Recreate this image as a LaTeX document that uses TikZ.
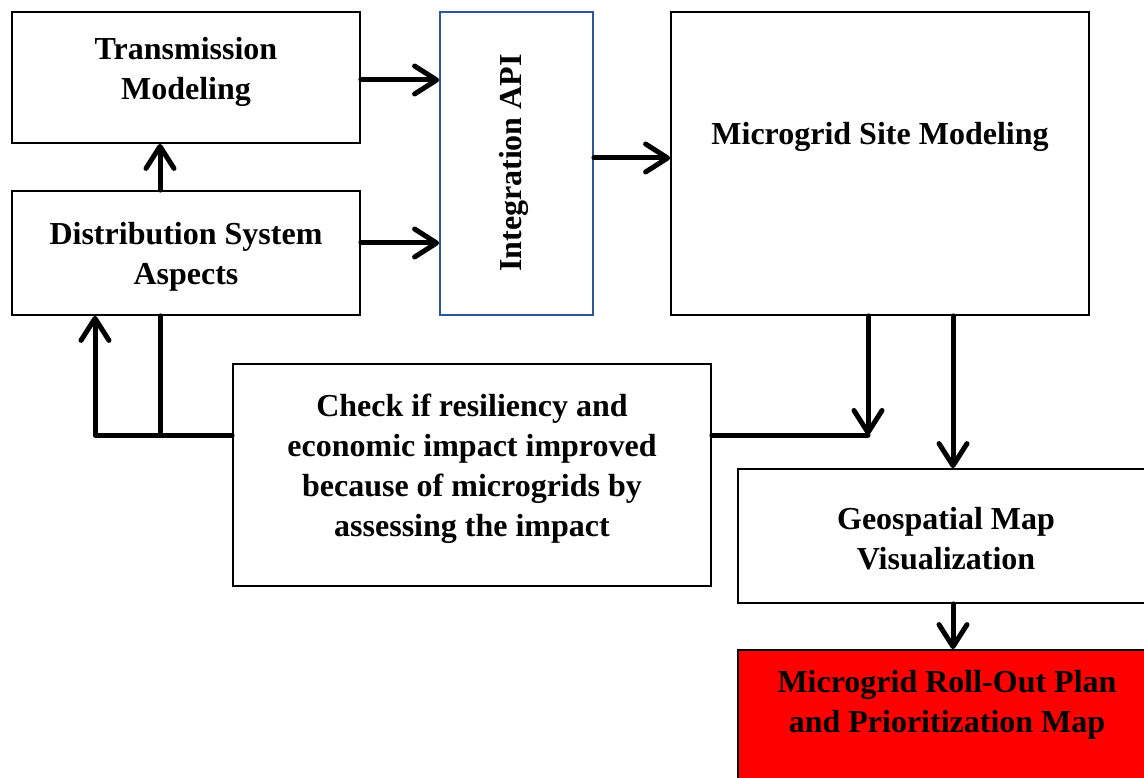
\documentclass[tikz,border=0pt]{standalone}
\usepackage{fontspec}
\setmainfont{Liberation Serif}
\usetikzlibrary{arrows.meta,calc}
\definecolor{apiblue}{RGB}{47,85,151}
\begin{document}
\begin{tikzpicture}[x=1pt,y=-1pt,
  box/.style={draw=black,line width=1.8pt,inner sep=0pt},
  txt/.style={font=\bfseries\fontsize{32}{40}\selectfont,align=center,inner sep=0pt},
  conn/.style={line width=5pt,line cap=round,line join=round},
  arr/.style={conn,-{Straight Barb[length=22pt,width=28pt,line cap=round,line join=round]}}]
\useasboundingbox (0,0) rectangle (1144,778);
% boxes
\node[box,minimum width=348pt,minimum height=131pt] (trans) at (186,77.5) {};
\node[box,minimum width=348pt,minimum height=124pt] (dist) at (186,253) {};
\node[box,draw=apiblue,minimum width=153pt,minimum height=303pt] (api) at (516.5,163.5) {};
\node[box,minimum width=418pt,minimum height=303pt] (micro) at (880,163.5) {};
\node[box,minimum width=478pt,minimum height=222pt] (check) at (472,475) {};
\node[box,minimum width=412pt,minimum height=134pt] (geo) at (944,536) {};
\node[box,fill=red,minimum width=412pt,minimum height=140pt] (plan) at (944,720) {};
% texts
\node[txt] (transT) at (186,72) {Transmission\\Modeling};
\node[txt] (distT) at (186,257) {Distribution System\\Aspects};
\node[txt,rotate=90] (apiT) at (514,163) {Integration API};
\node[txt] (microT) at (880,137) {Microgrid Site Modeling};
\node[txt] (checkT) at (472,469) {Check if resiliency and\\economic impact improved\\because of microgrids by\\assessing the impact};
\node[txt] (geoT) at (946,539) {Geospatial Map\\Visualization};
\node[txt] (planT) at (947,705) {Microgrid Roll-Out Plan\\and Prioritization Map};
% connectors
\coordinate (j) at (868,435);
\coordinate (l) at (95,435);
\coordinate (m) at (160,435);
\draw[arr] (trans.east |- 0,80) -- (api.west |- 0,80);
\draw[arr] (dist.east |- 0,243) -- (api.west |- 0,243);
\draw[arr] (api.east |- 0,158) -- (micro.west |- 0,158);
\draw[arr] (dist.north -| m) -- (trans.south -| m);
\draw[arr] (micro.south -| j) -- (j);
\draw[conn] (check.east |- j) -- (j);
\draw[arr] (check.west |- l) -- (l) -- (dist.south -| l);
\draw[conn] (m) -- (dist.south -| m);
\draw[arr] (micro.south -| 953,0) -- (geo.north -| 953,0);
\draw[arr] (geo.south -| 953,0) -- (plan.north -| 953,0);
\end{tikzpicture}
\end{document}
